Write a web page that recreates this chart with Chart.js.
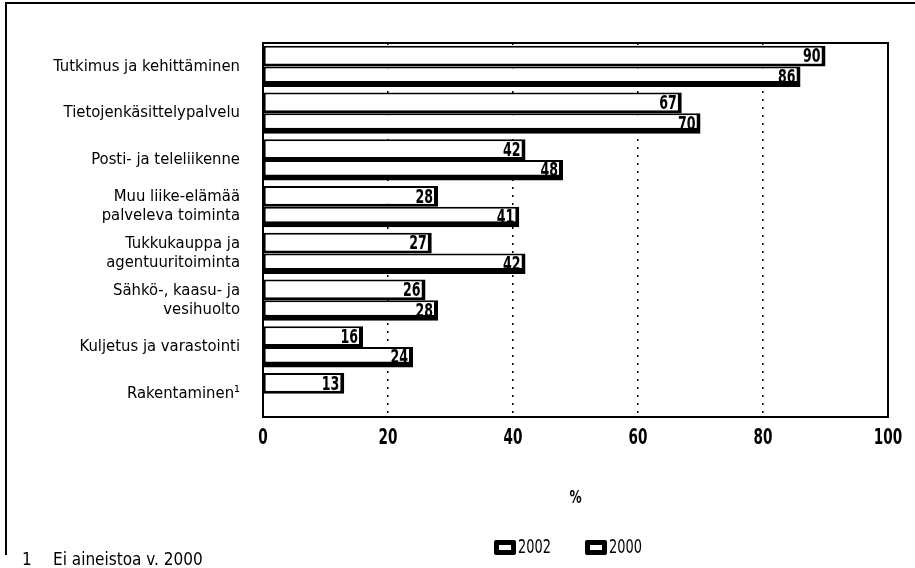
<!DOCTYPE html>
<html>
<head>
<meta charset="utf-8">
<style>
  html, body { margin: 0; padding: 0; background: #fff; }
  #wrap { width: 915px; height: 568px; position: relative; }
</style>
<script src="https://cdn.jsdelivr.net/npm/chart.js@4.4.1/dist/chart.umd.min.js"></script>
</head>
<body>
<div id="wrap"><canvas id="chart" width="915" height="568"></canvas></div>
<script>
// Data
const categories = [
  'Tutkimus ja kehittäminen',
  'Tietojenkäsittelypalvelu',
  'Posti- ja teleliikenne',
  ['Muu liike-elämää', 'palveleva toiminta'],
  ['Tukkukauppa ja', 'agentuuritoiminta'],
  ['Sähkö-, kaasu- ja', 'vesihuolto'],
  'Kuljetus ja varastointi',
  'Rakentaminen¹'
];
const values2002 = [90, 67, 42, 28, 27, 26, 16, 13];
const values2000 = [86, 70, 48, 41, 42, 28, 24, null];
const xTicks = [0, 20, 40, 60, 80, 100];
const seriesNames = ['2002', '2000'];

const FONT = '"DejaVu Sans Condensed", "DejaVu Sans", sans-serif';

// condensed text: the scan uses a tall narrow face
function narrowText(ctx, txt, x, y, sx) {
  ctx.save();
  ctx.translate(x, y);
  ctx.scale(sx, 1);
  ctx.fillText(txt, 0, 0);
  ctx.restore();
}

// plot box, value labels, x tick labels, axis title, legend and footnote
const extras = {
  id: 'extras',
  beforeDatasetsDraw(chart) {
    const { ctx, chartArea: a } = chart;
    ctx.save();
    ctx.strokeStyle = '#000';
    ctx.lineWidth = 2;
    ctx.strokeRect(a.left, a.top, a.right - a.left, a.bottom - a.top);
    ctx.restore();
  },
  afterDatasetsDraw(chart) {
    const { ctx } = chart;
    ctx.save();
    ctx.font = 'bold 20px ' + FONT;
    ctx.fillStyle = '#000';
    ctx.textAlign = 'right';
    ctx.textBaseline = 'middle';
    chart.data.datasets.forEach((ds, i) => {
      chart.getDatasetMeta(i).data.forEach((bar, j) => {
        if (ds.data[j] == null) return;
        narrowText(ctx, String(ds.data[j]), bar.x - 5, bar.y + 1, 0.7);
      });
    });
    ctx.restore();
  },
  afterDraw(chart) {
    const { ctx, chartArea: a } = chart;
    const xs = chart.scales.x;
    ctx.save();
    // outer frame (top and left edges of the scan)
    ctx.strokeStyle = '#000';
    ctx.lineWidth = 2;
    ctx.beginPath();
    ctx.moveTo(6, 555);
    ctx.lineTo(6, 3);
    ctx.lineTo(915, 3);
    ctx.stroke();

    ctx.fillStyle = '#000';
    ctx.textBaseline = 'middle';
    ctx.textAlign = 'center';

    // x tick labels
    ctx.font = 'bold 21px ' + FONT;
    xTicks.forEach(v => narrowText(ctx, String(v), xs.getPixelForValue(v), 439, 0.72));

    // axis title
    ctx.font = 'bold 18px ' + FONT;
    narrowText(ctx, '%', (a.left + a.right) / 2, 498, 0.75);

    // legend
    ctx.textAlign = 'left';
    ctx.font = '20px ' + FONT;
    [[seriesNames[0], 494], [seriesNames[1], 585]].forEach(([txt, x]) => {
      ctx.fillStyle = '#000';
      ctx.beginPath();
      ctx.roundRect(x, 540, 22, 15, 2);
      ctx.fill();
      ctx.fillStyle = '#fff';
      ctx.fillRect(x + 5, 545, 12, 5);
      ctx.fillStyle = '#000';
      narrowText(ctx, txt, x + 24, 548, 0.72);
    });

    // footnote
    ctx.font = '17px ' + FONT;
    ctx.fillText('1', 22, 561);
    ctx.fillText('Ei aineistoa v. 2000', 53, 561);
    ctx.restore();
  }
};

new Chart(document.getElementById('chart'), {
  type: 'bar',
  data: {
    labels: categories,
    datasets: [
      {
        label: seriesNames[0],
        data: values2002,
        backgroundColor: '#fff',
        borderColor: '#000',
        borderWidth: { top: 2, left: 2, right: 4, bottom: 3 },
        borderSkipped: false
      },
      {
        label: seriesNames[1],
        data: values2000,
        backgroundColor: '#fff',
        borderColor: '#000',
        borderWidth: { top: 2, left: 2, right: 4, bottom: 6 },
        borderSkipped: false
      }
    ]
  },
  options: {
    indexAxis: 'y',
    responsive: false,
    animation: false,
    layout: { padding: { top: 43, right: 27, left: 0, bottom: 0 } },
    datasets: { bar: { barPercentage: 1, categoryPercentage: 0.88 } },
    plugins: {
      legend: { display: false },
      tooltip: { enabled: false }
    },
    scales: {
      x: {
        min: 0,
        max: 100,
        afterBuildTicks(axis) { axis.ticks = xTicks.map(v => ({ value: v })); },
        afterFit(axis) { axis.height = 151; },
        grid: {
          color: ctx => (ctx.tick && (ctx.tick.value === 0 || ctx.tick.value === 100)) ? 'rgba(0,0,0,0)' : '#000',
          lineWidth: 1.5,
          drawTicks: false
        },
        border: { display: false, dash: [2, 6] },
        ticks: { display: false }
      },
      y: {
        afterFit(axis) { axis.width = 263; },
        grid: { display: false, drawTicks: false },
        border: { display: false },
        ticks: {
          padding: 23,
          color: '#000',
          font: { family: FONT, size: 16.5, lineHeight: 1.15 }
        }
      }
    }
  },
  plugins: [extras]
});
</script>
</body>
</html>
